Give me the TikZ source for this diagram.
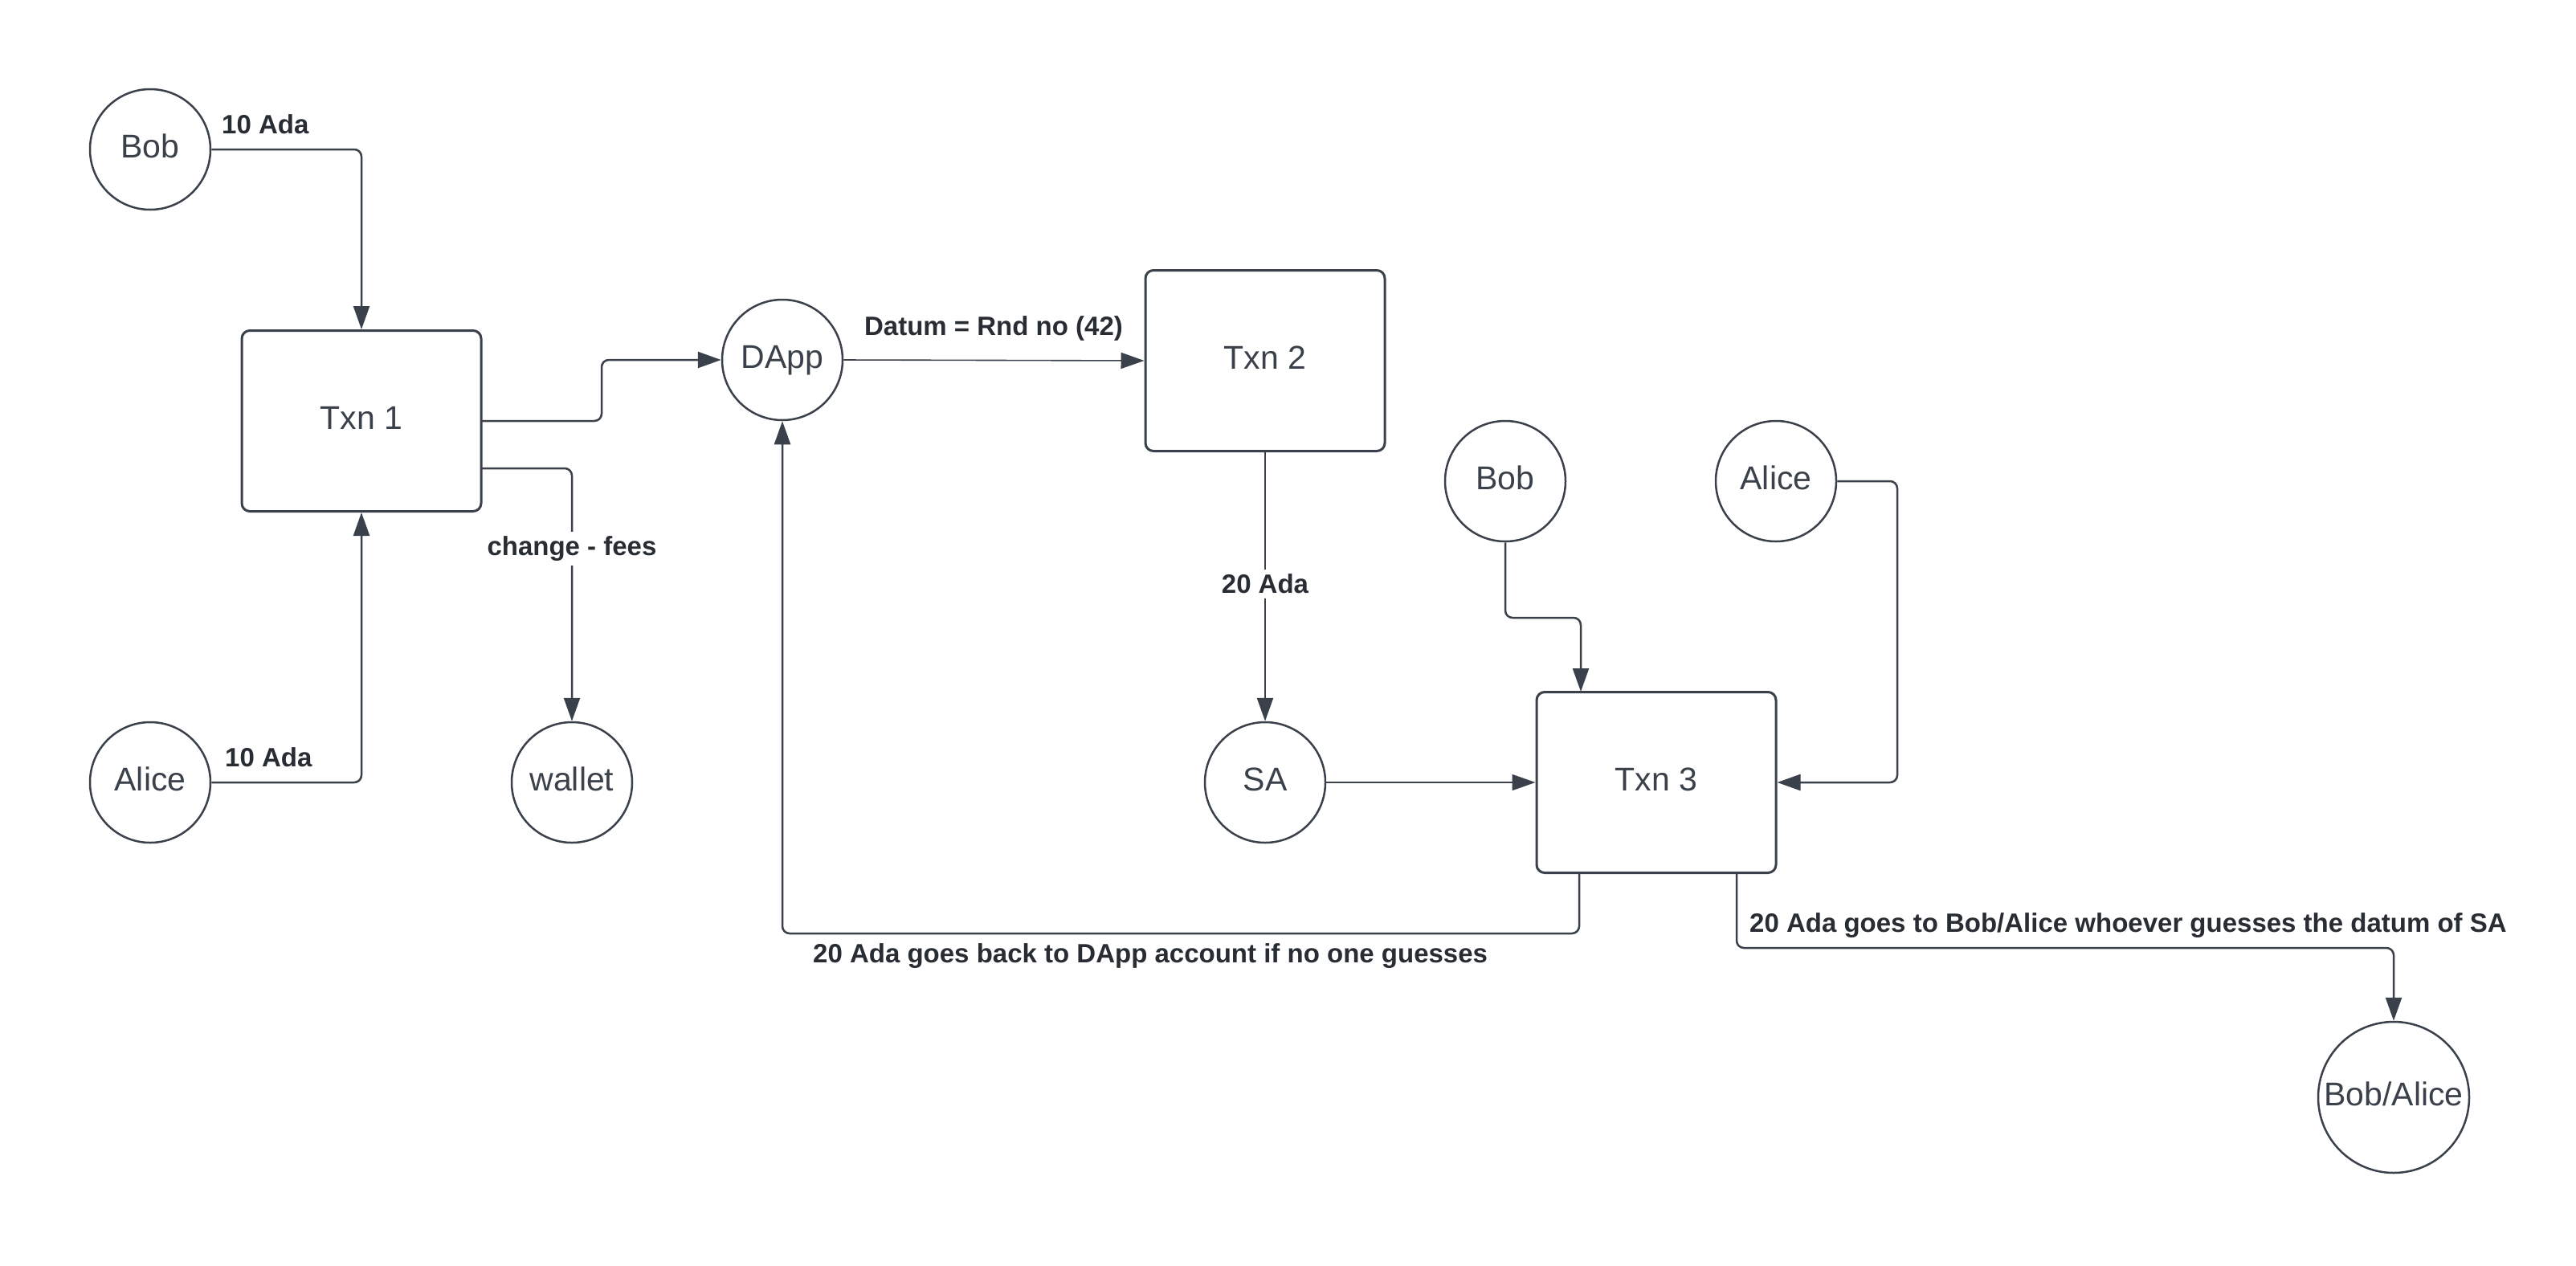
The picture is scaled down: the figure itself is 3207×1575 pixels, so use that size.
\documentclass[tikz,border=0pt]{standalone}
\usepackage{fontspec}
\setmainfont{Liberation Sans}
\usetikzlibrary{arrows.meta}
\definecolor{ln}{HTML}{3A414A}
\definecolor{lbl}{HTML}{282C33}
\tikzset{
  circ/.style={circle,draw=ln,line width=2.5pt,minimum size=150pt,inner sep=0pt,text=ln,font=\fontsize{41}{48}\selectfont,text height=30pt,text depth=10pt},
  txbox/.style={rectangle,rounded corners=10pt,draw=ln,line width=3pt,minimum width=298pt,minimum height=225pt,inner sep=0pt,text=ln,font=\fontsize{41}{48}\selectfont,text height=30pt,text depth=10pt},
  conn/.style={draw=ln,line width=2.5pt,rounded corners=9pt,-{Triangle[length=29pt,width=20pt]}},
  thinconn/.style={conn,line width=1.6pt},
  lab/.style={text=lbl,font=\fontsize{33}{40}\selectfont\bfseries,inner sep=4pt},
  labbg/.style={lab,fill=white,inner sep=6pt}
}
\begin{document}
\begin{tikzpicture}[x=1pt,y=-1pt]
\useasboundingbox (0,0) rectangle (3207,1575);
\fill[white] (0,0) rectangle (3207,1575);
% nodes
\node[circ] (bob1) at (187,186) {Bob};
\node[circ] (alice1) at (187,974) {Alice};
\node[circ] (wallet) at (712,974) {wallet};
\node[circ] (dapp) at (974,448) {DApp};
\node[txbox] (txn1) at (450,524) {Txn 1};
\node[txbox] (txn2) at (1575,449) {Txn 2};
\node[txbox] (txn3) at (2062,974) {Txn 3};
\node[circ] (bob2) at (1874,599) {Bob};
\node[circ] (alice2) at (2211,599) {Alice};
\node[circ] (sa) at (1575,974) {SA};
\node[circ,minimum size=188pt] (ba) at (2980,1366) {Bob/Alice};
% connectors
\draw[conn] (bob1.east) -| (txn1.north);
\draw[conn] (alice1.east) -| (txn1.south);
\coordinate (t1a) at (599,524);
\coordinate (t1b) at (599,583);
\draw[conn] (t1a) -- (749,524) -- (749,448) -- (dapp.west);
\draw[conn] (t1b) -| (wallet.north);
\draw[thinconn] (dapp.east) -- (txn2.west);
\draw[conn] (txn2.south) -- (sa.north);
\draw[thinconn] (sa.east) -- (txn3.west);
\coordinate (b2t) at (1968,861);
\draw[conn] (bob2.south) -- (1874,769) -- (1968,769) -- (b2t);
\draw[conn] (alice2.east) -- (2362,599) -- (2362,974) -- (txn3.east);
\coordinate (t3a) at (1966,1086);
\coordinate (t3b) at (2162,1086);
\draw[conn] (t3a) -- (1966,1162) -- (974,1162) -- (dapp.south);
\draw[conn] (t3b) -- (2162,1180) -- (2980,1180) -- (ba.north);
% labels
\node[lab,anchor=west] (l1) at (272,155) {10 Ada};
\node[lab,anchor=west] (l2) at (276,943) {10 Ada};
\node[labbg] (l3) at (712,683) {change - fees};
\node[lab] (l4) at (1237,409) {Datum = Rnd no (42)};
\node[labbg] (l5) at (1575,727) {20 Ada};
\node[lab,anchor=west] (l6) at (1008,1190) {20 Ada goes back to DApp account if no one guesses};
\node[lab,anchor=west] (l7) at (2174,1152) {20 Ada goes to Bob/Alice whoever guesses the datum of SA};
\end{tikzpicture}
\end{document}
